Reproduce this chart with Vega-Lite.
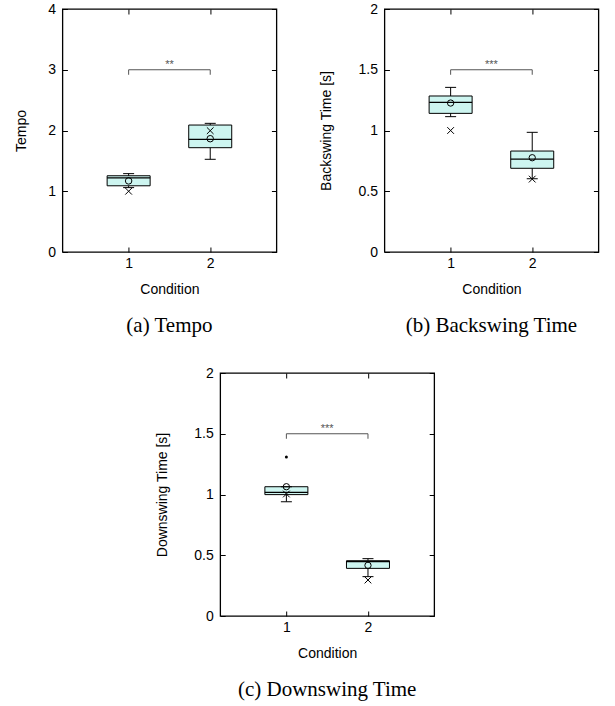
{
  "$schema": "https://vega.github.io/schema/vega-lite/v6.json",
  "padding": {"left": 13, "top": 1, "right": 5, "bottom": 5},
  "background": "white",
  "datasets": {
    "tempo": [
      {"cond": 1, "min": 1.06, "q1": 1.09, "median": 1.22, "q3": 1.255, "max": 1.29, "mean": 1.17, "cross": 1.0},
      {"cond": 2, "min": 1.526, "q1": 1.717, "median": 1.855, "q3": 2.09, "max": 2.118, "mean": 1.865, "cross": 1.997}
    ],
    "backswing": [
      {"cond": 1, "min": 1.114, "q1": 1.141, "median": 1.232, "q3": 1.284, "max": 1.355, "mean": 1.226, "cross": 1.0},
      {"cond": 2, "min": 0.603, "q1": 0.689, "median": 0.765, "q3": 0.831, "max": 0.985, "mean": 0.776, "cross": 0.6}
    ],
    "downswing": [
      {"cond": 1, "min": 0.941, "q1": 0.999, "median": 1.018, "q3": 1.064, "max": 1.064, "mean": 1.064, "cross": 1.004, "outlier": 1.309},
      {"cond": 2, "min": 0.324, "q1": 0.392, "median": 0.447, "q3": 0.455, "max": 0.472, "mean": 0.417, "cross": 0.296, "outlier": null}
    ],
    "br_tempo": [{"start": 1, "end": 2, "mid": 1.5, "level": 3, "stars": "**"}],
    "br_back": [{"start": 1, "end": 2, "mid": 1.5, "level": 1.5, "stars": "***"}],
    "br_down": [{"start": 1, "end": 2, "mid": 1.5, "level": 1.5, "stars": "***"}]
  },
  "vconcat": [
    {
      "hconcat": [
        {
          "width": 214, "height": 243,
          "title": {"text": "(a) Tempo", "orient": "bottom", "offset": 19},
          "resolve": {"axis": {"x": "independent", "y": "independent"}},
          "layer": [
            {
              "data": {"name": "tempo"},
              "mark": {"type": "rule", "color": "black", "strokeWidth": 1},
              "encoding": {
                "x": {"field": "cond", "type": "quantitative", "scale": {"domain": [0.25, 2.75], "nice": false, "zero": false},
                      "axis": {"orient": "bottom", "values": [1, 2], "format": "d", "title": "Condition", "labelPadding": 9, "titlePadding": 12}},
                "y": {"field": "min", "type": "quantitative", "scale": {"domain": [0, 4], "nice": false},
                      "axis": {"orient": "left", "values": [0, 1, 2, 3, 4], "format": "~g", "title": "Tempo", "titlePadding": 19}},
                "y2": {"field": "max"}
              }
            },
            {
              "data": {"name": "tempo"},
              "mark": {"type": "bar", "width": 43, "fill": "#cdf5f0", "stroke": "black", "strokeWidth": 1},
              "encoding": {
                "x": {"field": "cond", "type": "quantitative", "scale": {"domain": [0.25, 2.75], "nice": false, "zero": false},
                      "axis": {"orient": "top", "values": [1, 2], "labels": false, "title": null, "minExtent": 0, "maxExtent": 0}},
                "y": {"field": "q1", "type": "quantitative", "scale": {"domain": [0, 4], "nice": false},
                      "axis": {"orient": "right", "values": [0, 1, 2, 3, 4], "labels": false, "title": null, "minExtent": 0, "maxExtent": 0}},
                "y2": {"field": "q3"}
              }
            },
            {
              "data": {"name": "tempo"},
              "mark": {"type": "tick", "orient": "horizontal", "size": 43, "thickness": 1.3, "color": "black", "opacity": 1},
              "encoding": {
                "x": {"field": "cond", "type": "quantitative", "axis": null},
                "y": {"field": "median", "type": "quantitative", "axis": null}
              }
            },
            {
              "data": {"name": "tempo"},
              "mark": {"type": "tick", "orient": "horizontal", "size": 11, "thickness": 1, "color": "black", "opacity": 1},
              "encoding": {
                "x": {"field": "cond", "type": "quantitative", "axis": null},
                "y": {"field": "min", "type": "quantitative", "axis": null}
              }
            },
            {
              "data": {"name": "tempo"},
              "mark": {"type": "tick", "orient": "horizontal", "size": 11, "thickness": 1, "color": "black", "opacity": 1},
              "encoding": {
                "x": {"field": "cond", "type": "quantitative", "axis": null},
                "y": {"field": "max", "type": "quantitative", "axis": null}
              }
            },
            {
              "data": {"name": "tempo"},
              "mark": {"type": "point", "shape": "circle", "filled": false, "size": 42, "color": "black", "strokeWidth": 1, "opacity": 1},
              "encoding": {
                "x": {"field": "cond", "type": "quantitative", "axis": null},
                "y": {"field": "mean", "type": "quantitative", "axis": null}
              }
            },
            {
              "data": {"name": "tempo"},
              "mark": {"type": "point", "shape": "M-1,-1L1,1M-1,1L1,-1", "filled": false, "size": 45, "color": "black", "strokeWidth": 1, "opacity": 1},
              "encoding": {
                "x": {"field": "cond", "type": "quantitative", "axis": null},
                "y": {"field": "cross", "type": "quantitative", "axis": null}
              }
            },
            {
              "data": {"name": "br_tempo"},
              "mark": {"type": "rule", "color": "#555555", "strokeWidth": 1},
              "encoding": {
                "x": {"field": "start", "type": "quantitative", "axis": null},
                "x2": {"field": "end"},
                "y": {"field": "level", "type": "quantitative", "axis": null}
              }
            },
            {
              "data": {"name": "br_tempo"},
              "mark": {"type": "rule", "color": "#555555", "strokeWidth": 1, "y2Offset": 5},
              "encoding": {
                "x": {"field": "start", "type": "quantitative", "axis": null},
                "y": {"field": "level", "type": "quantitative", "axis": null},
                "y2": {"field": "level"}
              }
            },
            {
              "data": {"name": "br_tempo"},
              "mark": {"type": "rule", "color": "#555555", "strokeWidth": 1, "y2Offset": 5},
              "encoding": {
                "x": {"field": "end", "type": "quantitative", "axis": null},
                "y": {"field": "level", "type": "quantitative", "axis": null},
                "y2": {"field": "level"}
              }
            },
            {
              "data": {"name": "br_tempo"},
              "mark": {"type": "text", "color": "#555555", "fontSize": 11, "baseline": "alphabetic", "dy": -1.5, "font": "Liberation Sans"},
              "encoding": {
                "x": {"field": "mid", "type": "quantitative", "axis": null},
                "y": {"field": "level", "type": "quantitative", "axis": null},
                "text": {"field": "stars"}
              }
            }
          ]
        },
        {
          "width": 214, "height": 243,
          "title": {"text": "(b) Backswing Time", "orient": "bottom", "offset": 19},
          "resolve": {"axis": {"x": "independent", "y": "independent"}},
          "layer": [
            {
              "data": {"name": "backswing"},
              "mark": {"type": "rule", "color": "black", "strokeWidth": 1},
              "encoding": {
                "x": {"field": "cond", "type": "quantitative", "scale": {"domain": [0.25, 2.75], "nice": false, "zero": false},
                      "axis": {"orient": "bottom", "values": [1, 2], "format": "d", "title": "Condition", "labelPadding": 9, "titlePadding": 12}},
                "y": {"field": "min", "type": "quantitative", "scale": {"domain": [0, 2], "nice": false},
                      "axis": {"orient": "left", "values": [0, 0.5, 1, 1.5, 2], "format": "~g", "title": "Backswing Time [s]", "titlePadding": 24}},
                "y2": {"field": "max"}
              }
            },
            {
              "data": {"name": "backswing"},
              "mark": {"type": "bar", "width": 43, "fill": "#cdf5f0", "stroke": "black", "strokeWidth": 1},
              "encoding": {
                "x": {"field": "cond", "type": "quantitative", "scale": {"domain": [0.25, 2.75], "nice": false, "zero": false},
                      "axis": {"orient": "top", "values": [1, 2], "labels": false, "title": null, "minExtent": 0, "maxExtent": 0}},
                "y": {"field": "q1", "type": "quantitative", "scale": {"domain": [0, 2], "nice": false},
                      "axis": {"orient": "right", "values": [0, 0.5, 1, 1.5, 2], "labels": false, "title": null, "minExtent": 0, "maxExtent": 0}},
                "y2": {"field": "q3"}
              }
            },
            {
              "data": {"name": "backswing"},
              "mark": {"type": "tick", "orient": "horizontal", "size": 43, "thickness": 1.3, "color": "black", "opacity": 1},
              "encoding": {
                "x": {"field": "cond", "type": "quantitative", "axis": null},
                "y": {"field": "median", "type": "quantitative", "axis": null}
              }
            },
            {
              "data": {"name": "backswing"},
              "mark": {"type": "tick", "orient": "horizontal", "size": 11, "thickness": 1, "color": "black", "opacity": 1},
              "encoding": {
                "x": {"field": "cond", "type": "quantitative", "axis": null},
                "y": {"field": "min", "type": "quantitative", "axis": null}
              }
            },
            {
              "data": {"name": "backswing"},
              "mark": {"type": "tick", "orient": "horizontal", "size": 11, "thickness": 1, "color": "black", "opacity": 1},
              "encoding": {
                "x": {"field": "cond", "type": "quantitative", "axis": null},
                "y": {"field": "max", "type": "quantitative", "axis": null}
              }
            },
            {
              "data": {"name": "backswing"},
              "mark": {"type": "point", "shape": "circle", "filled": false, "size": 40, "color": "black", "strokeWidth": 1, "opacity": 1},
              "encoding": {
                "x": {"field": "cond", "type": "quantitative", "axis": null},
                "y": {"field": "mean", "type": "quantitative", "axis": null}
              }
            },
            {
              "data": {"name": "backswing"},
              "mark": {"type": "point", "shape": "M-1,-1L1,1M-1,1L1,-1", "filled": false, "size": 45, "color": "black", "strokeWidth": 1, "opacity": 1},
              "encoding": {
                "x": {"field": "cond", "type": "quantitative", "axis": null},
                "y": {"field": "cross", "type": "quantitative", "axis": null}
              }
            },
            {
              "data": {"name": "br_back"},
              "mark": {"type": "rule", "color": "#555555", "strokeWidth": 1},
              "encoding": {
                "x": {"field": "start", "type": "quantitative", "axis": null},
                "x2": {"field": "end"},
                "y": {"field": "level", "type": "quantitative", "axis": null}
              }
            },
            {
              "data": {"name": "br_back"},
              "mark": {"type": "rule", "color": "#555555", "strokeWidth": 1, "y2Offset": 5},
              "encoding": {
                "x": {"field": "start", "type": "quantitative", "axis": null},
                "y": {"field": "level", "type": "quantitative", "axis": null},
                "y2": {"field": "level"}
              }
            },
            {
              "data": {"name": "br_back"},
              "mark": {"type": "rule", "color": "#555555", "strokeWidth": 1, "y2Offset": 5},
              "encoding": {
                "x": {"field": "end", "type": "quantitative", "axis": null},
                "y": {"field": "level", "type": "quantitative", "axis": null},
                "y2": {"field": "level"}
              }
            },
            {
              "data": {"name": "br_back"},
              "mark": {"type": "text", "color": "#555555", "fontSize": 11, "baseline": "alphabetic", "dy": -1.5, "font": "Liberation Sans"},
              "encoding": {
                "x": {"field": "mid", "type": "quantitative", "axis": null},
                "y": {"field": "level", "type": "quantitative", "axis": null},
                "text": {"field": "stars"}
              }
            }
          ]
        }
      ],
      "spacing": 40
    },
    {
      "width": 214, "height": 243,
      "title": {"text": "(c) Downswing Time", "orient": "bottom", "offset": 19},
      "resolve": {"axis": {"x": "independent", "y": "independent"}},
      "layer": [
        {
          "data": {"name": "downswing"},
          "mark": {"type": "rule", "color": "black", "strokeWidth": 1},
          "encoding": {
            "x": {"field": "cond", "type": "quantitative", "scale": {"domain": [0.25, 2.75], "nice": false, "zero": false},
                  "axis": {"orient": "bottom", "values": [1, 2], "format": "d", "title": "Condition", "labelPadding": 9, "titlePadding": 12}},
            "y": {"field": "min", "type": "quantitative", "scale": {"domain": [0, 2], "nice": false},
                  "axis": {"orient": "left", "values": [0, 0.5, 1, 1.5, 2], "format": "~g", "title": "Downswing Time [s]", "titlePadding": 24}},
            "y2": {"field": "max"}
          }
        },
        {
          "data": {"name": "downswing"},
          "mark": {"type": "bar", "width": 43, "fill": "#cdf5f0", "stroke": "black", "strokeWidth": 1},
          "encoding": {
            "x": {"field": "cond", "type": "quantitative", "scale": {"domain": [0.25, 2.75], "nice": false, "zero": false},
                  "axis": {"orient": "top", "values": [1, 2], "labels": false, "title": null, "minExtent": 0, "maxExtent": 0}},
            "y": {"field": "q1", "type": "quantitative", "scale": {"domain": [0, 2], "nice": false},
                  "axis": {"orient": "right", "values": [0, 0.5, 1, 1.5, 2], "labels": false, "title": null, "minExtent": 7, "maxExtent": 7}},
            "y2": {"field": "q3"}
          }
        },
        {
          "data": {"name": "downswing"},
          "mark": {"type": "tick", "orient": "horizontal", "size": 43, "thickness": 1.3, "color": "black", "opacity": 1},
          "encoding": {
            "x": {"field": "cond", "type": "quantitative", "axis": null},
            "y": {"field": "median", "type": "quantitative", "axis": null}
          }
        },
        {
          "data": {"name": "downswing"},
          "mark": {"type": "tick", "orient": "horizontal", "size": 11, "thickness": 1, "color": "black", "opacity": 1},
          "encoding": {
            "x": {"field": "cond", "type": "quantitative", "axis": null},
            "y": {"field": "min", "type": "quantitative", "axis": null}
          }
        },
        {
          "data": {"name": "downswing"},
          "mark": {"type": "tick", "orient": "horizontal", "size": 11, "thickness": 1, "color": "black", "opacity": 1},
          "encoding": {
            "x": {"field": "cond", "type": "quantitative", "axis": null},
            "y": {"field": "max", "type": "quantitative", "axis": null}
          }
        },
        {
          "data": {"name": "downswing"},
          "mark": {"type": "point", "shape": "circle", "filled": false, "size": 40, "color": "black", "strokeWidth": 1, "opacity": 1},
          "encoding": {
            "x": {"field": "cond", "type": "quantitative", "axis": null},
            "y": {"field": "mean", "type": "quantitative", "axis": null}
          }
        },
        {
          "data": {"name": "downswing"},
          "mark": {"type": "point", "shape": "M-1,-1L1,1M-1,1L1,-1", "filled": false, "size": 45, "color": "black", "strokeWidth": 1, "opacity": 1},
          "encoding": {
            "x": {"field": "cond", "type": "quantitative", "axis": null},
            "y": {"field": "cross", "type": "quantitative", "axis": null}
          }
        },
        {
          "data": {"name": "downswing"},
          "transform": [{"filter": "datum.outlier != null"}],
          "mark": {"type": "point", "shape": "circle", "filled": true, "size": 9, "color": "black", "opacity": 1},
          "encoding": {
            "x": {"field": "cond", "type": "quantitative", "axis": null},
            "y": {"field": "outlier", "type": "quantitative", "axis": null}
          }
        },
        {
          "data": {"name": "br_down"},
          "mark": {"type": "rule", "color": "#555555", "strokeWidth": 1},
          "encoding": {
            "x": {"field": "start", "type": "quantitative", "axis": null},
            "x2": {"field": "end"},
            "y": {"field": "level", "type": "quantitative", "axis": null}
          }
        },
        {
          "data": {"name": "br_down"},
          "mark": {"type": "rule", "color": "#555555", "strokeWidth": 1, "y2Offset": 5},
          "encoding": {
            "x": {"field": "start", "type": "quantitative", "axis": null},
            "y": {"field": "level", "type": "quantitative", "axis": null},
            "y2": {"field": "level"}
          }
        },
        {
          "data": {"name": "br_down"},
          "mark": {"type": "rule", "color": "#555555", "strokeWidth": 1, "y2Offset": 5},
          "encoding": {
            "x": {"field": "end", "type": "quantitative", "axis": null},
            "y": {"field": "level", "type": "quantitative", "axis": null},
            "y2": {"field": "level"}
          }
        },
        {
          "data": {"name": "br_down"},
          "mark": {"type": "text", "color": "#555555", "fontSize": 11, "baseline": "alphabetic", "dy": -1.5, "font": "Liberation Sans"},
          "encoding": {
            "x": {"field": "mid", "type": "quantitative", "axis": null},
            "y": {"field": "level", "type": "quantitative", "axis": null},
            "text": {"field": "stars"}
          }
        }
      ]
    }
  ],
  "spacing": 28,
  "center": true,
  "config": {
    "view": {"stroke": "black", "strokeWidth": 1.3},
    "axis": {
      "labelFont": "Liberation Sans", "labelFontSize": 14, "labelColor": "black",
      "titleFont": "Liberation Sans", "titleFontSize": 14, "titleFontWeight": "normal", "titleColor": "black",
      "tickSize": -5, "tickColor": "black", "tickWidth": 1, "labelPadding": 12,
      "domain": false, "grid": false, "titlePadding": 10
    },
    "title": {"font": "Liberation Serif", "fontSize": 21, "fontWeight": "normal", "color": "black", "anchor": "middle"}
  }
}
